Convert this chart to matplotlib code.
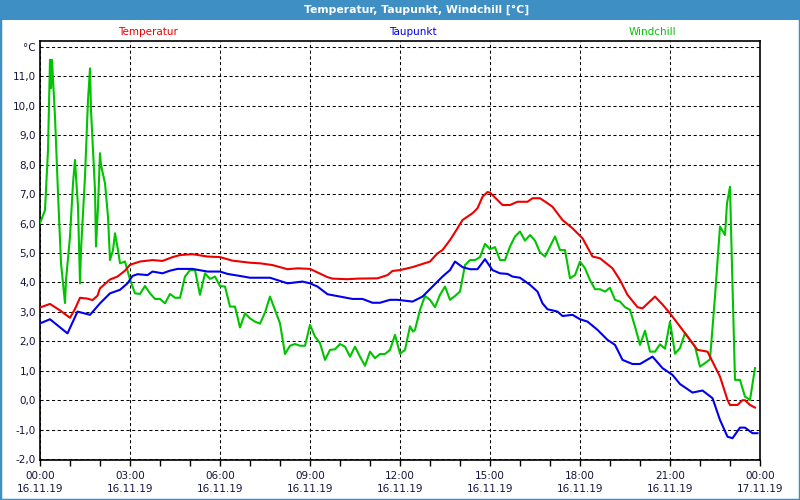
import matplotlib
matplotlib.use("Agg")
import matplotlib.pyplot as plt
from matplotlib.patches import Rectangle
from matplotlib.ticker import MultipleLocator, FixedLocator

# ---------------- data ----------------
temp_times = ["00:00", "00:20", "00:40", "01:00", "01:10", "01:20", "01:35", "01:45", "01:55", "02:00",
              "02:20", "02:35", "02:50", "03:00", "03:20", "03:45", "04:05", "04:25", "04:40", "05:05",
              "05:35", "06:00", "06:25", "07:00", "07:20", "07:45", "08:15", "08:35", "09:00", "09:35",
              "09:45", "10:15", "10:35", "11:15", "11:35", "11:45", "12:00", "12:25", "13:00", "13:15",
              "13:25", "13:40", "13:55", "14:05", "14:25", "14:35", "14:45", "14:55", "15:00", "15:15",
              "15:25", "15:40", "15:55", "16:15", "16:25", "16:40", "16:55", "17:05", "17:25", "17:45",
              "18:05", "18:25", "18:40", "19:05", "19:20", "19:35", "19:55", "20:05", "20:30", "20:45",
              "21:00", "21:25", "21:55", "22:15", "22:25", "22:40", "22:55", "23:00", "23:15", "23:25",
              "23:30", "23:40", "23:50"]
temperatur = [3.15, 3.27, 3.05, 2.8, 3.1, 3.48, 3.45, 3.4, 3.55, 3.8,
              4.1, 4.2, 4.4, 4.6, 4.71, 4.76, 4.73, 4.86, 4.93, 4.96,
              4.88, 4.86, 4.74, 4.67, 4.65, 4.59, 4.45, 4.48, 4.46, 4.18,
              4.13, 4.11, 4.13, 4.14, 4.25, 4.39, 4.42, 4.52, 4.71, 4.99,
              5.1, 5.44, 5.84, 6.12, 6.35, 6.52, 6.91, 7.07, 7.05, 6.8,
              6.63, 6.63, 6.74, 6.74, 6.86, 6.86, 6.69, 6.57, 6.12, 5.84,
              5.5, 4.88, 4.82, 4.48, 4.08, 3.58, 3.16, 3.12, 3.52, 3.25,
              2.95, 2.39, 1.71, 1.65, 1.31, 0.8, 0.01, -0.16, -0.16, 0.0,
              0.0, -0.16, -0.25]

dew_times = ["00:00", "00:20", "00:55", "01:15", "01:40", "02:00", "02:20", "02:40", "02:55", "03:05",
             "03:15", "03:35", "03:45", "04:05", "04:20", "04:35", "05:05", "05:35", "06:00", "06:15",
             "06:40", "07:00", "07:40", "08:15", "08:45", "09:00", "09:15", "09:35", "10:00", "10:25",
             "10:45", "11:05", "11:20", "11:40", "11:55", "12:25", "12:45", "13:05", "13:25", "13:40",
             "13:50", "14:05", "14:20", "14:35", "14:50", "15:05", "15:20", "15:35", "15:45", "16:00",
             "16:20", "16:35", "16:45", "16:55", "17:15", "17:25", "17:45", "18:00", "18:15", "18:35",
             "18:55", "19:10", "19:25", "19:45", "20:00", "20:25", "20:45", "21:05", "21:20", "21:45",
             "22:05", "22:25", "22:40", "22:55", "23:05", "23:20", "23:30", "23:45", "23:55"]
taupunkt = [2.61, 2.75, 2.27, 3.01, 2.9, 3.29, 3.63, 3.75, 3.97, 4.22,
            4.28, 4.25, 4.37, 4.31, 4.4, 4.46, 4.46, 4.37, 4.37, 4.29,
            4.22, 4.16, 4.16, 3.97, 4.03, 3.97, 3.86, 3.6, 3.52, 3.44,
            3.44, 3.31, 3.31, 3.41, 3.41, 3.35, 3.52, 3.86, 4.2, 4.42,
            4.71, 4.52, 4.45, 4.45, 4.79, 4.42, 4.31, 4.29, 4.2, 4.16,
            3.92, 3.69, 3.29, 3.09, 3.01, 2.86, 2.9, 2.75, 2.67, 2.39,
            2.05, 1.88, 1.37, 1.23, 1.23, 1.48, 1.09, 0.86, 0.55, 0.26,
            0.33, 0.07, -0.67, -1.24, -1.29, -0.93, -0.93, -1.12, -1.12]

wind_times = ["00:00", "00:10", "00:16", "00:20", "00:22", "00:24", "00:30", "00:36", "00:42", "00:50",
              "00:52", "01:00", "01:06", "01:10", "01:12", "01:16", "01:20", "01:22", "01:30", "01:36",
              "01:40", "01:42", "01:50", "01:52", "01:56", "02:00", "02:02", "02:10", "02:16", "02:20",
              "02:26", "02:30", "02:36", "02:40", "02:50",
              "03:00", "03:10", "03:20", "03:30", "03:40", "03:50", "04:00", "04:10", "04:20", "04:30",
              "04:40", "04:50", "05:00", "05:10", "05:20", "05:30", "05:40", "05:50", "06:00", "06:10",
              "06:20", "06:30", "06:40", "06:50", "07:00", "07:10", "07:20", "07:30", "07:40", "07:50",
              "08:00", "08:10", "08:20", "08:30", "08:40", "08:50", "09:00", "09:10", "09:20", "09:30",
              "09:40", "09:50", "10:00", "10:10", "10:20", "10:30", "10:40", "10:50", "11:00", "11:10",
              "11:20", "11:30", "11:40", "11:50", "12:00", "12:10", "12:20", "12:26", "12:30", "12:40",
              "12:50", "13:00", "13:10", "13:20", "13:30", "13:40", "13:50", "14:00", "14:10", "14:20",
              "14:30", "14:40", "14:50", "15:00", "15:10", "15:20", "15:30", "15:40", "15:50", "16:00",
              "16:10", "16:20", "16:30", "16:40", "16:50", "17:00", "17:10", "17:20", "17:30", "17:40",
              "17:50", "18:00", "18:10", "18:20", "18:30", "18:40", "18:50", "19:00", "19:10", "19:20",
              "19:30", "19:40", "19:50", "20:00", "20:10", "20:20", "20:30", "20:40", "20:50", "21:00",
              "21:10", "21:20", "21:30", "21:40", "21:50", "22:00", "22:10", "22:20", "22:30", "22:40",
              "22:50", "22:54", "23:00", "23:04", "23:10", "23:20", "23:30", "23:40", "23:50"]
windchill = [6.01, 6.46, 8.5, 11.56, 10.6, 11.56, 9.63, 7.03, 4.66, 3.3,
             4.08, 5.56, 7.37, 8.16, 7.6, 6.58, 3.97, 5.1, 7.6, 10.2,
             11.27, 9.86, 7.14, 5.22, 6.58, 8.39, 7.99, 7.37, 6.23, 4.76,
             5.1, 5.67, 5.1, 4.65, 4.71,
             4.1, 3.63, 3.61, 3.88, 3.63, 3.44, 3.44, 3.29, 3.61, 3.48,
             3.48, 4.2, 4.42, 4.42, 3.58, 4.31, 4.12, 4.2, 3.88, 3.86,
             3.18, 3.18, 2.47, 2.95, 2.78, 2.67, 2.6, 2.98, 3.52, 3.07,
             2.61, 1.57, 1.85, 1.91, 1.85, 1.85, 2.56, 2.16, 1.94, 1.37,
             1.71, 1.73, 1.91, 1.82, 1.48, 1.82, 1.48, 1.17, 1.65, 1.43,
             1.57, 1.57, 1.71, 2.22, 1.58, 1.71, 2.51, 2.33, 2.39, 3.07,
             3.54, 3.41, 3.16, 3.58, 3.86, 3.41, 3.54, 3.69, 4.59, 4.76,
             4.76, 4.86, 5.31, 5.13, 5.2, 4.76, 4.76, 5.22, 5.56, 5.73,
             5.42, 5.61, 5.42, 5.02, 4.88, 5.22, 5.56, 5.1, 5.1, 4.14,
             4.25, 4.71, 4.48, 4.08, 3.77, 3.77, 3.69, 3.82, 3.41, 3.35,
             3.16, 3.07, 2.5, 1.88, 2.36, 1.65, 1.65, 1.9, 1.75, 2.67,
             1.58, 1.77, 2.28, 2.05, 1.82, 1.14, 1.26, 1.39, 3.52, 5.9,
             5.61, 6.69, 7.25, 4.54, 0.69, 0.69, 0.12, 0.01, 1.09]

series_names = ["Temperatur", "Taupunkt", "Windchill"]
series_colors = ["#ee0000", "#0000ee", "#00c400"]

x_tick_labels = ["00:00\n16.11.19", "03:00\n16.11.19", "06:00\n16.11.19", "09:00\n16.11.19",
                 "12:00\n16.11.19", "15:00\n16.11.19", "18:00\n16.11.19", "21:00\n16.11.19",
                 "00:00\n17.11.19"]
y_tick_labels = ["-2,0", "-1,0", "0,0", "1,0", "2,0", "3,0", "4,0", "5,0", "6,0", "7,0",
                 "8,0", "9,0", "10,0", "11,0", "°C"]
title_text = "Temperatur, Taupunkt, Windchill [°C]"


def to_hours(ts):
    out = []
    for s in ts:
        h, m = s.split(":")
        out.append(int(h) + int(m) / 60.0)
    return out


# ---------------- figure ----------------
W, H = 800, 500
fig = plt.figure(figsize=(8, 5), dpi=100, facecolor="white")
ax = fig.add_axes([40 / W, 1 - 460 / H, 720 / W, 419 / H])
ax.set_facecolor("white")

lw = 1.5
ax.plot(to_hours(wind_times), windchill, color=series_colors[2], lw=lw, zorder=3)
ax.plot(to_hours(temp_times), temperatur, color=series_colors[0], lw=lw, zorder=4)
ax.plot(to_hours(dew_times), taupunkt, color=series_colors[1], lw=lw, zorder=5)

ax.set_xlim(0, 24)
ax.set_ylim(-2.03, 12.2)

ax.xaxis.set_major_locator(FixedLocator(list(range(0, 25, 3))))
ax.xaxis.set_minor_locator(MultipleLocator(1))
ax.set_xticklabels(x_tick_labels)
ax.yaxis.set_major_locator(FixedLocator(list(range(-2, 13))))
ax.set_yticklabels(y_tick_labels)

label_color = "#14143c"
ax.tick_params(axis="x", which="both", direction="out", length=4, width=1,
               color="black", labelsize=7.5, labelcolor=label_color, pad=4)
ax.tick_params(axis="y", which="both", length=0, labelsize=7.5,
               labelcolor=label_color, pad=3)
for t in ax.get_xticklabels():
    t.set_linespacing(1.35)

ax.grid(True, which="major", color="black", lw=0.75, linestyle=(0, (3, 2.5)), zorder=1)
for sp in ax.spines.values():
    sp.set_color("black")
    sp.set_linewidth(1.2)

# title bar
bar_color = "#3d8fc4"
fig.patches.append(Rectangle((0, 1 - 20 / H), 1, 20 / H, transform=fig.transFigure,
                             facecolor=bar_color, edgecolor="none", zorder=0))
fig.text(0.521, 1 - 10 / H, title_text, color="white", fontsize=7.8, fontweight="bold",
         ha="center", va="center")
fig.patches.append(Rectangle((0, 0), 1, 1, transform=fig.transFigure, fill=False,
                             edgecolor=bar_color, lw=2.5, zorder=10))

# legend-like labels above the plot
legend_x = [148, 413, 652]
for name, col, xp in zip(series_names, series_colors, legend_x):
    fig.text(xp / W, 1 - 32 / H, name, color=col, fontsize=7.5, ha="center", va="center")

fig.savefig("out.png", dpi=100, facecolor="white")
